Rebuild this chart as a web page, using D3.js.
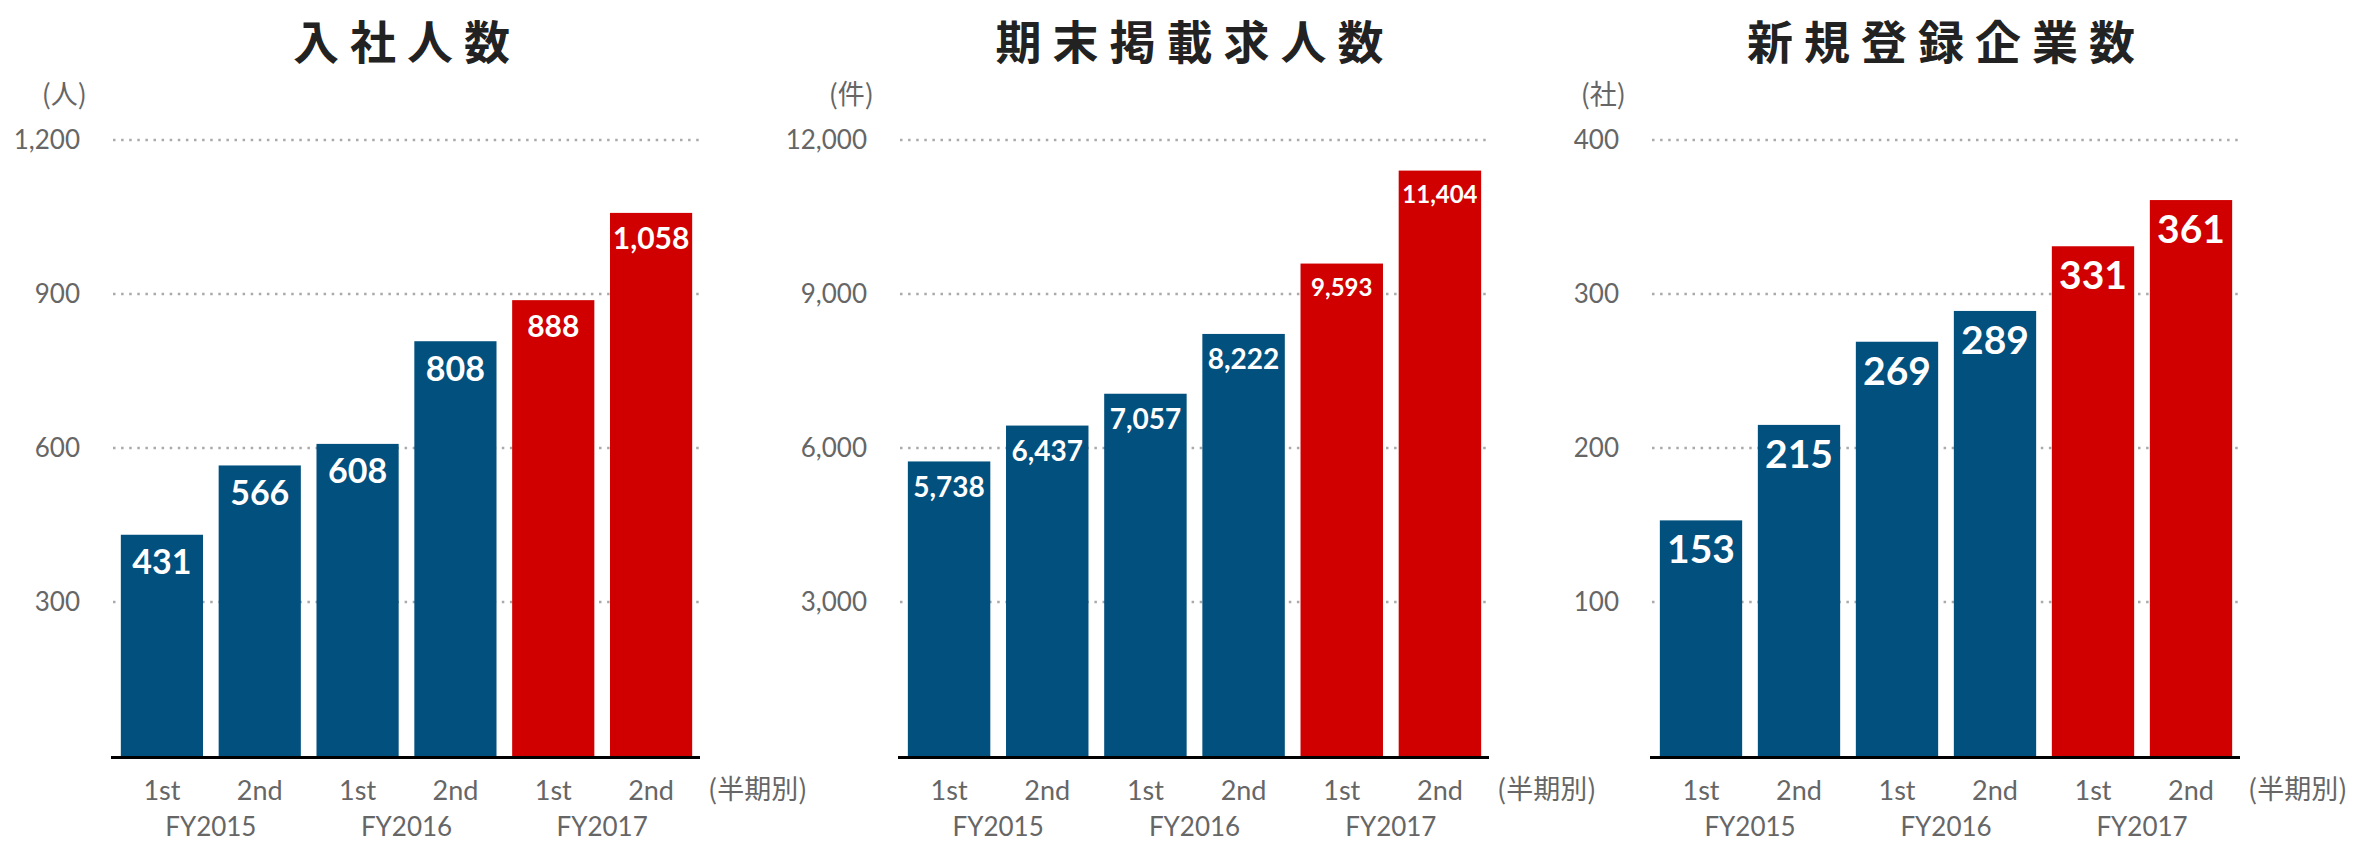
<!DOCTYPE html>
<html>
<head>
<meta charset="utf-8">
<script src="https://cdn.jsdelivr.net/npm/d3@7"></script>
<style>
  body { margin: 0; background: #fff; }
  .num { font-family: Lato, "Noto Sans", sans-serif; }
  .jp { font-family: "Noto Sans CJK JP", "Noto Sans", sans-serif; }
</style>
</head>
<body>
<div id="vis"></div>
<script>
'use strict';

// data
var periods = ['1st', '2nd', '1st', '2nd', '1st', '2nd'];
var fiscalYears = ['FY2015', 'FY2016', 'FY2017'];
var hires = [431, 566, 608, 808, 888, 1058];            // 入社人数
var listings = [5738, 6437, 7057, 8222, 9593, 11404];   // 期末掲載求人数
var companies = [153, 215, 269, 289, 331, 361];         // 新規登録企業数
var hireTicks = [300, 600, 900, 1200];
var listingTicks = [3000, 6000, 9000, 12000];
var companyTicks = [100, 200, 300, 400];
var titles = ['入社人数', '期末掲載求人数', '新規登録企業数'];
var units = ['(人)', '(件)', '(社)'];
var periodNote = '(半期別)';
var highlightYear = 'FY2017';

var width = 2361, height = 843;
var blue = '#02507e', red = '#d00000';
var gray = '#666';

var svg = d3.select('#vis').append('svg')
    .attr('width', width)
    .attr('height', height);

// one panel per metric; x0/x1 = plot edges in px
var panels = [
    { values: hires, ticks: hireTicks, x0: 113, x1: 700, fs: 34, fsHi: 30 },
    { values: listings, ticks: listingTicks, x0: 900, x1: 1489, fs: 28, fsHi: 24 },
    { values: companies, ticks: companyTicks, x0: 1652, x1: 2240, fs: 39, fsHi: 39 }
];

var yTop = 140, yBase = 756;
var fmt = d3.format(',');

panels.forEach(function(p, k) {
    var g = svg.append('g');

    var x = d3.scaleBand()
        .domain(d3.range(p.values.length))
        .range([p.x0, p.x1])
        .paddingInner(0.16)
        .paddingOuter(0.08);

    var y = d3.scaleLinear()
        .domain([0, d3.max(p.ticks)])
        .range([yBase, yTop]);

    // title
    var ls = 11;
    g.append('text')
        .attr('class', 'jp')
        .attr('x', (p.x0 + p.x1) / 2 - 5 + ls / 2)
        .attr('y', 59)
        .attr('text-anchor', 'middle')
        .style('font-size', '46px')
        .style('font-weight', 700)
        .style('letter-spacing', ls + 'px')
        .style('fill', '#222')
        .text(titles[k]);

    // unit
    g.append('text')
        .attr('class', 'jp')
        .attr('x', p.x0 - 26)
        .attr('y', 104)
        .attr('text-anchor', 'end')
        .style('font-size', '27px')
        .style('fill', gray)
        .text(units[k]);

    // dotted grid
    g.selectAll('.grid')
        .data(p.ticks)
        .enter().append('line')
        .attr('x1', p.x0).attr('x2', p.x1)
        .attr('y1', function(d) { return y(d); })
        .attr('y2', function(d) { return y(d); })
        .style('stroke', '#aaa')
        .style('stroke-width', 2.5)
        .style('stroke-dasharray', '2.5,5.6');

    // tick labels
    g.selectAll('.tick')
        .data(p.ticks)
        .enter().append('text')
        .attr('class', 'num')
        .attr('x', p.x0 - 33)
        .attr('y', function(d) { return y(d); })
        .attr('dy', '0.35em')
        .attr('text-anchor', 'end')
        .style('font-size', '26px')
        .style('fill', gray)
        .text(fmt);

    function isHi(i) { return fiscalYears[Math.floor(i / 2)] === highlightYear; }

    // bars
    g.selectAll('.bar')
        .data(p.values)
        .enter().append('rect')
        .attr('x', function(d, i) { return x(i); })
        .attr('width', x.bandwidth())
        .attr('y', function(d) { return y(d); })
        .attr('height', function(d) { return yBase - y(d); })
        .style('fill', function(d, i) { return isHi(i) ? red : blue; });

    // value labels inside bars
    g.selectAll('.val')
        .data(p.values)
        .enter().append('text')
        .attr('class', 'num')
        .attr('x', function(d, i) { return x(i) + x.bandwidth() / 2; })
        .attr('y', function(d, i) {
            var fs = isHi(i) ? p.fsHi : p.fs;
            return y(d) + 15 + 0.72 * fs;
        })
        .attr('text-anchor', 'middle')
        .style('font-size', function(d, i) { return (isHi(i) ? p.fsHi : p.fs) + 'px'; })
        .style('font-weight', 700)
        .style('fill', '#fff')
        .text(fmt);

    // baseline axis
    g.append('line')
        .attr('x1', p.x0 - 2).attr('x2', p.x1)
        .attr('y1', yBase + 1.5).attr('y2', yBase + 1.5)
        .style('stroke', '#000')
        .style('stroke-width', 3);

    // period labels
    g.selectAll('.per')
        .data(periods)
        .enter().append('text')
        .attr('class', 'num')
        .attr('x', function(d, i) { return x(i) + x.bandwidth() / 2; })
        .attr('y', 800)
        .attr('text-anchor', 'middle')
        .style('font-size', '27px')
        .style('fill', gray)
        .text(function(d) { return d; });

    // fiscal year labels, centred under each pair
    g.selectAll('.fy')
        .data(fiscalYears)
        .enter().append('text')
        .attr('class', 'num')
        .attr('x', function(d, j) { return (x(2 * j) + x(2 * j + 1) + x.bandwidth()) / 2; })
        .attr('y', 836)
        .attr('text-anchor', 'middle')
        .style('font-size', '26px')
        .style('fill', gray)
        .text(function(d) { return d; });

    g.append('text')
        .attr('class', 'jp')
        .attr('x', p.x1 + 8)
        .attr('y', 799)
        .style('font-size', '27px')
        .style('fill', gray)
        .text(periodNote);
});
</script>
</body>
</html>
